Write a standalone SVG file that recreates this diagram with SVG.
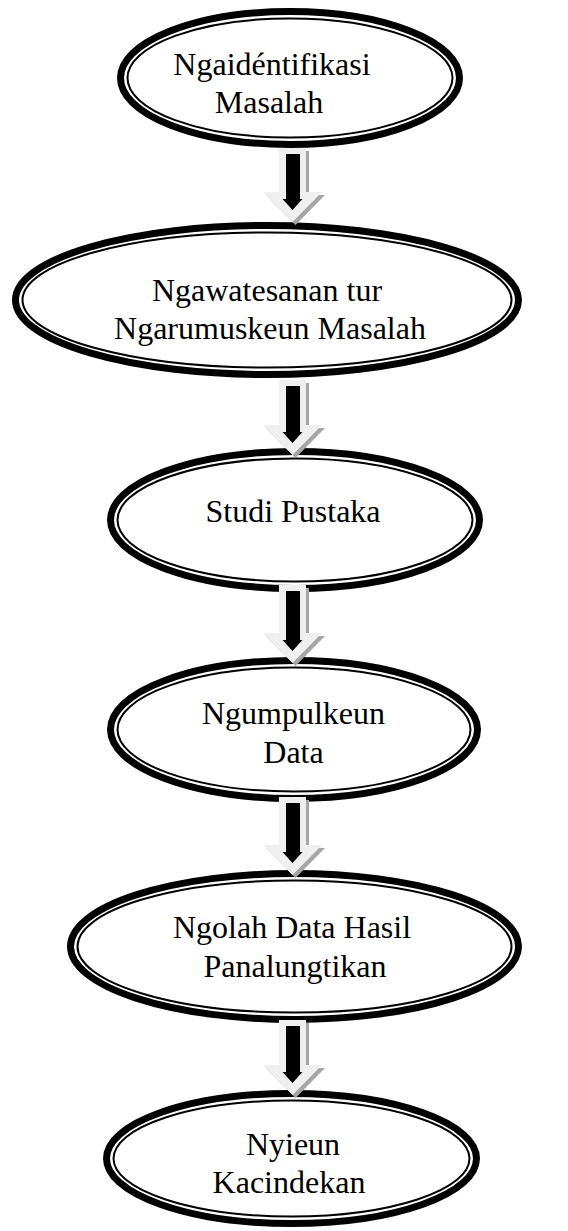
<svg xmlns="http://www.w3.org/2000/svg" width="568" height="1231" viewBox="0 0 568 1231">
<style>
.thick{fill:#ffffff;stroke:#000000;stroke-width:7}
.thin{fill:none;stroke:#000000;stroke-width:2}
.lbl{font-family:"Liberation Serif","Times New Roman",serif;font-size:32px;fill:#000000;text-anchor:middle}
.sh{fill:#a6a6a6}
.out{fill:#efefef}
.inn{fill:#000000}
</style>
<rect x="0" y="0" width="568" height="1231" fill="#ffffff"/>
<g id="node1">
<ellipse class="thick" cx="290" cy="78" rx="169.5" ry="66.5"/>
<ellipse class="thin" cx="290" cy="78" rx="162.5" ry="59.5"/>
<text class="lbl" x="272" y="75">Ngaidéntifikasi</text>
<text class="lbl" x="269" y="113">Masalah</text>
</g>
<g id="node2">
<ellipse class="thick" cx="267" cy="300" rx="251.5" ry="74.5"/>
<ellipse class="thin" cx="267" cy="300" rx="244.5" ry="67.5"/>
<text class="lbl" x="267" y="301">Ngawatesanan tur</text>
<text class="lbl" x="270" y="339">Ngarumuskeun Masalah</text>
</g>
<g id="node3">
<ellipse class="thick" cx="295" cy="520" rx="184.5" ry="68.5"/>
<ellipse class="thin" cx="295" cy="520" rx="177.5" ry="61.5"/>
<text class="lbl" x="293" y="522">Studi Pustaka</text>
</g>
<g id="node4">
<ellipse class="thick" cx="294" cy="729.5" rx="183.5" ry="69"/>
<ellipse class="thin" cx="294" cy="729.5" rx="176.5" ry="62"/>
<text class="lbl" x="293.5" y="724">Ngumpulkeun</text>
<text class="lbl" x="293.5" y="763">Data</text>
</g>
<g id="node5">
<ellipse class="thick" cx="294.5" cy="946.5" rx="224" ry="73"/>
<ellipse class="thin" cx="294.5" cy="946.5" rx="217" ry="66"/>
<text class="lbl" x="292" y="938">Ngolah Data Hasil</text>
<text class="lbl" x="295" y="977">Panalungtikan</text>
</g>
<g id="node6">
<ellipse class="thick" cx="291.5" cy="1158.5" rx="185" ry="65"/>
<ellipse class="thin" cx="291.5" cy="1158.5" rx="178" ry="58"/>
<text class="lbl" x="293" y="1155">Nyieun</text>
<text class="lbl" x="289" y="1193">Kacindekan</text>
</g>
<g id="connectors">
<g id="arrow1">
<polygon class="sh" points="282,151 309,151 309,195 325,195 295.5,225 266,195 282,195"/>
<polygon class="out" points="279,148 306,148 306,192 322,192 292.5,222 263,192 279,192"/>
<polygon class="inn" points="286,154 300,154 300,199 302.5,199 292.5,210 282.5,199 286,199"/>
</g>
<g id="arrow2">
<polygon class="sh" points="282,383 309,383 309,428 325,428 295.5,458 266,428 282,428"/>
<polygon class="out" points="279,380 306,380 306,425 322,425 292.5,455 263,425 279,425"/>
<polygon class="inn" points="286,386 300,386 300,432 302.5,432 292.5,443 282.5,432 286,432"/>
</g>
<g id="arrow3">
<polygon class="sh" points="282,588 309,588 309,636 325,636 295.5,666 266,636 282,636"/>
<polygon class="out" points="279,585 306,585 306,633 322,633 292.5,663 263,633 279,633"/>
<polygon class="inn" points="286,591 300,591 300,640 302.5,640 292.5,651 282.5,640 286,640"/>
</g>
<g id="arrow4">
<polygon class="sh" points="282,800 309,800 309,848 325,848 295.5,878 266,848 282,848"/>
<polygon class="out" points="279,797 306,797 306,845 322,845 292.5,875 263,845 279,845"/>
<polygon class="inn" points="286,803 300,803 300,852 302.5,852 292.5,863 282.5,852 286,852"/>
</g>
<g id="arrow5">
<polygon class="sh" points="282,1023 309,1023 309,1068 325,1068 295.5,1098 266,1068 282,1068"/>
<polygon class="out" points="279,1020 306,1020 306,1065 322,1065 292.5,1095 263,1065 279,1065"/>
<polygon class="inn" points="286,1026 300,1026 300,1072 302.5,1072 292.5,1083 282.5,1072 286,1072"/>
</g>
</g>
</svg>
